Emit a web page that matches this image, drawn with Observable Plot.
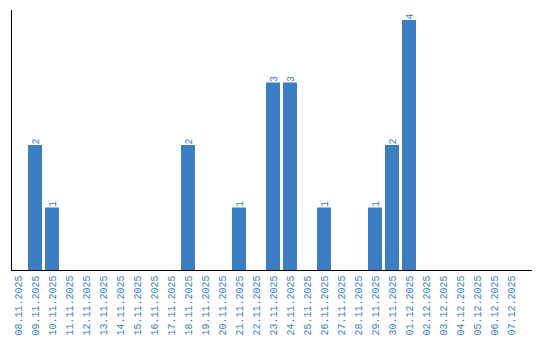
<!DOCTYPE html>
<html>
<head>
<meta charset="utf-8">
<script src="https://cdn.jsdelivr.net/npm/d3@7"></script>
<script src="https://cdn.jsdelivr.net/npm/@observablehq/plot@0.6"></script>
<style>
  html, body { margin: 0; padding: 0; background: #fff; }
  #chart svg { display: block; }
</style>
</head>
<body>
<div id="chart"></div>
<script>
const dates = [
  "08.11.2025","09.11.2025","10.11.2025","11.11.2025","12.11.2025","13.11.2025",
  "14.11.2025","15.11.2025","16.11.2025","17.11.2025","18.11.2025","19.11.2025",
  "20.11.2025","21.11.2025","22.11.2025","23.11.2025","24.11.2025","25.11.2025",
  "26.11.2025","27.11.2025","28.11.2025","29.11.2025","30.11.2025","01.12.2025",
  "02.12.2025","03.12.2025","04.12.2025","05.12.2025","06.12.2025","07.12.2025"
];
const counts = [0,2,1,0,0,0,0,0,0,0,2,0,0,1,0,3,3,0,1,0,0,1,2,4,0,0,0,0,0,0];

const data = dates.map((d, i) => ({date: d, count: counts[i]}));
const blue = "#3b7ec3";
const font = "Liberation Mono";

const chart = Plot.plot({
  width: 540,
  height: 340,
  marginLeft: 11,
  marginRight: 9,
  marginTop: 10,
  marginBottom: 70,
  style: {background: "#fff", fontFamily: font},
  x: {domain: dates, range: [11, 521], paddingInner: 0.18, paddingOuter: 0, align: 0, label: null},
  y: {domain: [0, 4.16], axis: null},
  marks: [
    Plot.barY(data, {x: "date", y: "count", fill: blue}),
    Plot.text(data.filter(d => d.count > 0), {
      x: "date", y: "count", text: d => String(d.count),
      rotate: -90, textAnchor: "start", dx: 0, dy: -1,
      fill: blue, fontSize: 10, fontFamily: font
    }),
    Plot.axisX({tickRotate: -90, tickSize: 0, tickPadding: 5, fill: blue, fontSize: 10, fontFamily: font, label: null}),
    Plot.frame({anchor: "left", stroke: "#000", strokeWidth: 1}),
    Plot.frame({anchor: "bottom", stroke: "#000", strokeWidth: 1})
  ]
});
document.getElementById("chart").appendChild(chart);
</script>
</body>
</html>
